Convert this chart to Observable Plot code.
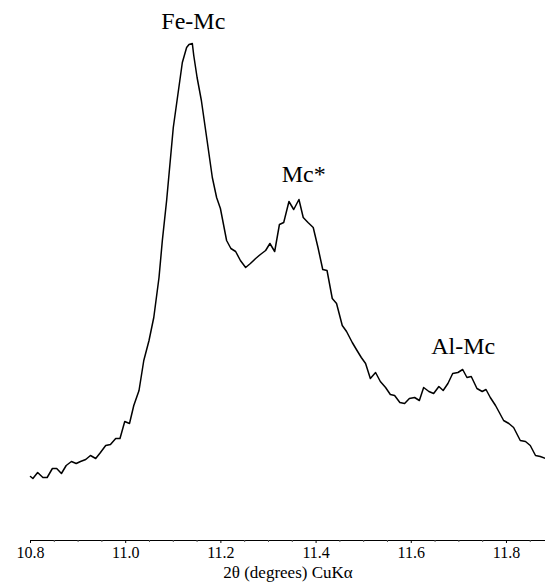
<!DOCTYPE html>
<html>
<head>
<meta charset="utf-8">
<script src="https://cdn.jsdelivr.net/npm/d3@7"></script>
<script src="https://cdn.jsdelivr.net/npm/@observablehq/plot@0.6"></script>
<style>
  html, body { margin: 0; padding: 0; background: white; }
</style>
</head>
<body>
<div id="chart"></div>
<script>
// 2θ positions (degrees)
const twoTheta = [
  10.800, 10.805, 10.815, 10.826, 10.835, 10.846, 10.855, 10.865, 10.875, 10.886,
  10.896, 10.905, 10.916, 10.926, 10.937, 10.947, 10.958, 10.968, 10.979, 10.988,
  10.998, 11.008, 11.017, 11.028, 11.038, 11.049, 11.059, 11.070, 11.077, 11.086,
  11.100, 11.119, 11.128, 11.133, 11.140, 11.143, 11.150, 11.159, 11.171, 11.182,
  11.191, 11.199, 11.212, 11.221, 11.231, 11.241, 11.252, 11.262, 11.273, 11.283,
  11.294, 11.303, 11.313, 11.323, 11.332, 11.343, 11.353, 11.364, 11.373, 11.383,
  11.394, 11.404, 11.414, 11.423, 11.434, 11.443, 11.455, 11.464, 11.476, 11.486,
  11.495, 11.504, 11.514, 11.525, 11.535, 11.546, 11.556, 11.565, 11.576, 11.586,
  11.596, 11.607, 11.617, 11.626, 11.637, 11.647, 11.658, 11.667, 11.677, 11.687,
  11.698, 11.708, 11.717, 11.726, 11.738, 11.749, 11.757, 11.766, 11.777, 11.785,
  11.794, 11.805, 11.815, 11.829, 11.840, 11.850, 11.861, 11.871, 11.882
];
// intensity (arbitrary units)
const intensity = [
  64, 62, 68, 63, 63, 72, 72, 67, 75, 79,
  77, 79, 81, 85, 82, 88, 95, 96, 102, 102,
  119, 117, 135, 150, 180, 200, 223, 263, 300, 340,
  413, 478, 493, 496, 497, 485, 463, 440, 400, 363,
  343, 332, 300, 292, 289, 280, 273, 277, 282, 286,
  290, 297, 289, 316, 318, 339, 331, 341, 323, 318,
  313, 293, 271, 270, 242, 237, 215, 209, 198, 190,
  183, 177, 162, 168, 159, 153, 146, 145, 138, 137,
  142, 143, 140, 153, 149, 147, 154, 150, 157, 167,
  168, 171, 163, 164, 152, 149, 151, 143, 135, 128,
  120, 117, 113, 100, 99, 95, 85, 84, 82
];

const majorTicks = [10.8, 11.0, 11.2, 11.4, 11.6, 11.8];
const minorTicks = [10.85, 10.9, 10.95, 11.05, 11.1, 11.15, 11.25, 11.3, 11.35,
                    11.45, 11.5, 11.55, 11.65, 11.7, 11.75, 11.85];

const peakLabels = ["Fe-Mc", "Mc*", "Al-Mc"];
const peakX = [11.142, 11.374, 11.709];
const peakY = [519, 366, 194];

const xLabel = "2θ (degrees) CuKα";

const data = twoTheta.map((x, i) => ({x, y: intensity[i]}));
const peaks = peakLabels.map((t, i) => ({t, x: peakX[i], y: peakY[i]}));

const serif = "Liberation Serif";

const chart = Plot.plot({
  width: 545,
  height: 588,
  marginLeft: 30,
  marginRight: 0,
  marginTop: 40,
  marginBottom: 48,
  x: {domain: [10.8, 11.882]},
  y: {domain: [0, 500], axis: null},
  style: {fontFamily: serif, background: "white", color: "black"},
  marks: [
    Plot.ruleY([0], {stroke: "black", strokeWidth: 1}),
    Plot.axisX({ticks: minorTicks, tickSize: 2, text: null, label: null, stroke: "#555"}),
    Plot.axisX({ticks: majorTicks, tickSize: 3, tickPadding: 3, fontSize: 16, fontFamily: serif,
                tickFormat: d3.format(".1f"), label: null, stroke: "black"}),
    Plot.line(data, {x: "x", y: "y", stroke: "black", strokeWidth: 1.5}),
    Plot.text(peaks, {x: "x", y: "y", text: "t", fontSize: 24, fontFamily: serif, fill: "black"}),
    Plot.text([xLabel], {frameAnchor: "bottom", dy: 37, fontSize: 17, fontFamily: serif, fill: "black"})
  ]
});

document.getElementById("chart").appendChild(chart);
</script>
</body>
</html>
